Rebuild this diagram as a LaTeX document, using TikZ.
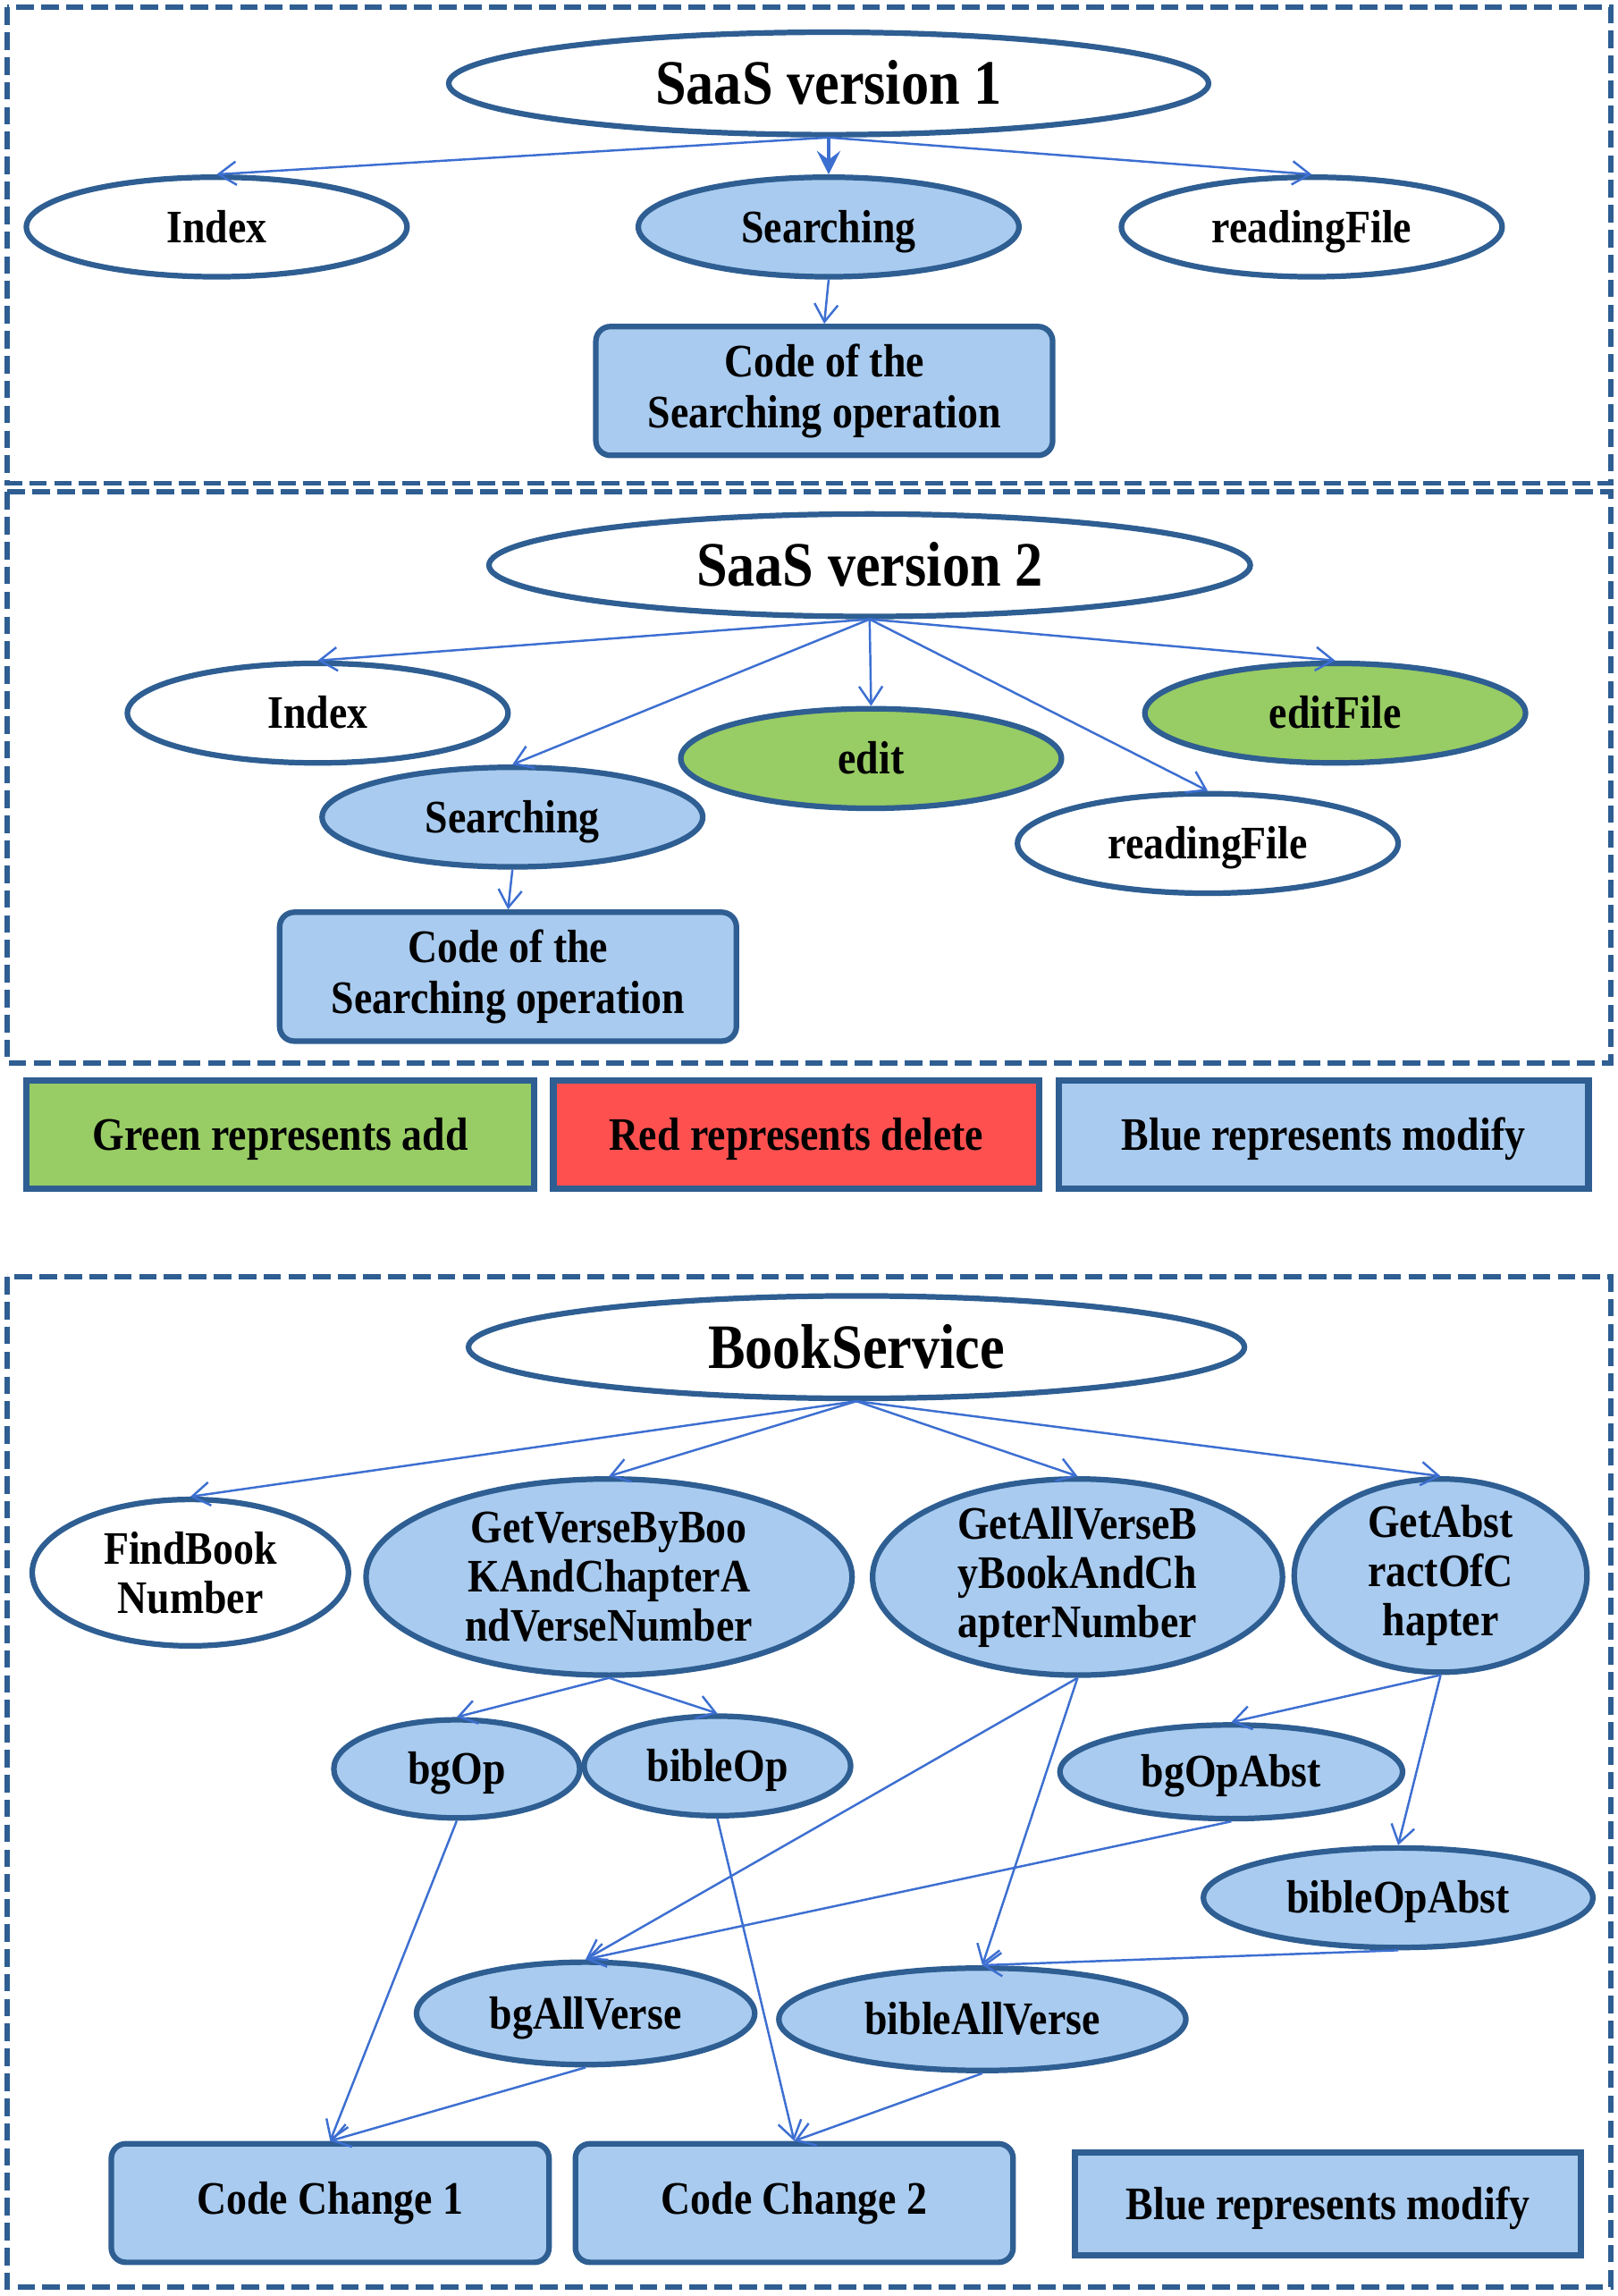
\documentclass[tikz,border=0pt]{standalone}
\usepackage{fontspec}
\setmainfont{Liberation Serif}[FakeStretch=0.88]
\usetikzlibrary{shapes.geometric,arrows.meta}
\definecolor{bord}{RGB}{46,94,146}
\definecolor{lblue}{RGB}{169,203,239}
\definecolor{lgreen}{RGB}{152,204,100}
\definecolor{lred}{RGB}{255,80,80}
\definecolor{arrc}{RGB}{61,111,209}
\newcommand\nfont{\fontsize{15.9}{16.75}\selectfont\bfseries}
\newcommand\tfont{\fontsize{21.6}{24}\selectfont\bfseries}
\begin{document}
\begin{tikzpicture}[x=0.5pt,y=-0.5pt,
  ell/.style={ellipse, draw=bord, line width=1.9pt, fill=white, inner sep=0pt, font=\nfont, text height=10.5pt, text depth=0pt},
  ttl/.style={font=\tfont, text height=14.3pt, text depth=0pt},
  bfill/.style={fill=lblue},
  gfill/.style={fill=lgreen},
  rbox/.style={rectangle, rounded corners=5pt, draw=bord, line width=1.9pt, fill=lblue, align=center, inner sep=0pt, font=\nfont},
  legbox/.style={rectangle, draw=bord, line width=2.2pt, inner sep=0pt, font=\nfont, text height=10.5pt, text depth=0pt},
  frame/.style={draw=bord, line width=1.8pt, dash pattern=on 6pt off 2.5pt},
  lbl/.style={font=\nfont, align=center, inner sep=0pt},
  arr/.style={draw=arrc, line width=0.75pt, -{Straight Barb[length=6pt,width=8pt]}},
  arrb/.style={draw=arrc, line width=1.3pt, -{Stealth[length=8pt,width=8pt,inset=3pt]}}
]
\useasboundingbox (0,0) rectangle (1105,1568);
\fill[white] (0,0) rectangle (1105,1568);

% ---------- Section 1 ----------
\draw[frame] (5,5) rectangle (1100,330);
\node[ell, ttl, minimum width=259.5pt, minimum height=35pt] (v1) at (566,57) {SaaS version 1};
\node[ell, minimum width=130pt, minimum height=34pt] (idx1) at (148,155) {Index};
\node[ell, bfill, minimum width=130pt, minimum height=34pt] (s1) at (566,155) {Searching};
\node[ell, minimum width=130pt, minimum height=34pt] (rf1) at (896,155) {readingFile};
\node[rbox, minimum width=156pt, minimum height=44pt] (c1) at (563,267) {Code of the\\[0.75pt]Searching operation};
\draw[arr] (v1.south) -- (idx1.north);
\draw[arr] (v1.south) -- (rf1.north);
\draw[arrb] (v1.south) -- (s1.north);
\draw[arr] (s1.south) -- (c1.north);

% ---------- Section 2 ----------
\draw[frame] (5,336) rectangle (1100,726);
\node[ell, ttl, minimum width=260pt, minimum height=35pt] (v2) at (594,386) {SaaS version 2};
\node[ell, minimum width=130pt, minimum height=34pt] (idx2) at (217,487) {Index};
\node[ell, bfill, minimum width=130pt, minimum height=34pt] (s2) at (350,558) {Searching};
\node[ell, gfill, minimum width=130pt, minimum height=34pt] (ed) at (595,518) {edit};
\node[ell, gfill, minimum width=130pt, minimum height=34pt] (ef) at (912,487) {editFile};
\node[ell, minimum width=130pt, minimum height=34pt] (rf2) at (825,576) {readingFile};
\node[rbox, minimum width=156pt, minimum height=44pt] (c2) at (347,667) {Code of the\\[0.75pt]Searching operation};
\draw[arr] (v2.south) -- (idx2.north);
\draw[arr] (v2.south) -- (s2.north);
\draw[arr] (v2.south) -- (ed.north);
\draw[arr] (v2.south) -- (ef.north);
\draw[arr] (v2.south) -- (rf2.north);
\draw[arr] (s2.south) -- (c2.north);

% ---------- Legend ----------
\node[legbox, fill=lgreen, minimum width=173.5pt, minimum height=37pt] (lg) at (191.5,775) {Green represents add};
\node[legbox, fill=lred, minimum width=166pt, minimum height=37pt] (lr) at (544,775) {Red represents delete};
\node[legbox, fill=lblue, minimum width=181pt, minimum height=37pt] (lb) at (904,775) {Blue represents modify};

% ---------- Section 3 ----------
\draw[frame] (5,872) rectangle (1100,1562);
\node[ell, ttl, minimum width=265pt, minimum height=35pt] (bs) at (585,920) {BookService};
\node[ell, minimum width=108pt, minimum height=50pt, label={[lbl, name=fbt]center:{FindBook\\Number}}] (fb) at (130,1074) {};
\node[ell, bfill, minimum width=166pt, minimum height=67pt, label={[lbl, name=gvt]center:{GetVerseByBoo\\KAndChapterA\\ndVerseNumber}}] (gv) at (416,1077) {};
\node[ell, bfill, minimum width=140pt, minimum height=67pt, label={[lbl, name=gat]center:{GetAllVerseB\\yBookAndCh\\apterNumber}}] (ga) at (736,1077) {};
\node[ell, bfill, minimum width=100pt, minimum height=66pt, label={[lbl, name=gbt]center:{GetAbst\\ractOfC\\hapter}}] (gb) at (984,1076) {};
\node[ell, bfill, minimum width=84pt, minimum height=33.5pt] (bgop) at (312,1208) {bgOp};
\node[ell, bfill, minimum width=91pt, minimum height=34pt] (biop) at (490,1206) {bibleOp};
\node[ell, bfill, minimum width=117pt, minimum height=32pt] (bgab) at (841,1210) {bgOpAbst};
\node[ell, bfill, minimum width=133pt, minimum height=34pt] (biab) at (955,1296) {bibleOpAbst};
\node[ell, bfill, minimum width=115.5pt, minimum height=35pt] (bgall) at (400,1375) {bgAllVerse};
\node[ell, bfill, minimum width=139pt, minimum height=35pt] (biall) at (671,1379) {bibleAllVerse};
\node[rbox, minimum width=149.5pt, minimum height=40.5pt] (cc1) at (225.5,1504.5) {Code Change 1};
\node[rbox, minimum width=149.5pt, minimum height=40.5pt] (cc2) at (542.5,1504.5) {Code Change 2};
\node[legbox, fill=lblue, minimum width=173pt, minimum height=35pt] (lb2) at (907,1505) {Blue represents modify};

\draw[arr] (bs.south) -- (fb.north);
\draw[arr] (bs.south) -- (gv.north);
\draw[arr] (bs.south) -- (ga.north);
\draw[arr] (bs.south) -- (gb.north);
\draw[arr] (gv.south) -- (bgop.north);
\draw[arr] (gv.south) -- (biop.north);
\draw[arr] (ga.south) -- (bgall.north);
\draw[arr] (ga.south) -- (biall.north);
\draw[arr] (gb.south) -- (bgab.north);
\draw[arr] (gb.south) -- (biab.north);
\draw[arr] (bgab.south) -- (bgall.north);
\draw[arr] (biab.south) -- (biall.north);
\draw[arr] (bgop.south) -- (cc1.north);
\draw[arr] (bgall.south) -- (cc1.north);
\draw[arr] (biop.south) -- (cc2.north);
\draw[arr] (biall.south) -- (cc2.north);
\end{tikzpicture}
\end{document}
